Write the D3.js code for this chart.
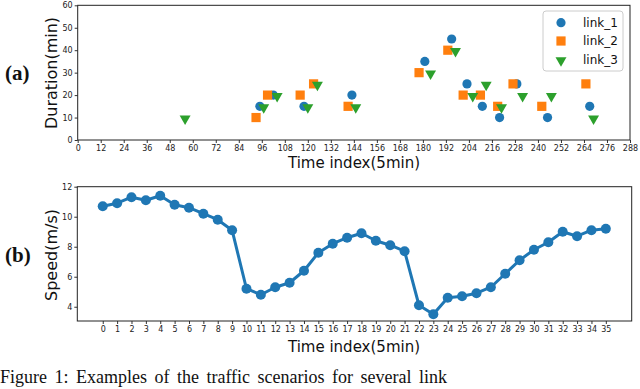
<!DOCTYPE html>
<html>
<head>
<meta charset="utf-8">
<script src="https://cdn.jsdelivr.net/npm/d3@7"></script>
<style>
  body { margin: 0; background: #fff; }
  svg { display: block; }
  .tick text { font-family: "DejaVu Sans", sans-serif; font-size: 8px; fill: #222; }
  .tick line { stroke: #333; }
  .axlabel { font-family: "DejaVu Sans", sans-serif; fill: #111; }
  .panel { font-family: "Liberation Serif", serif; font-weight: bold; font-size: 21px; fill: #111; }
</style>
</head>
<body>
<svg id="fig" width="640" height="389"></svg>
<script>
// (a) trip duration samples per link: [time index, duration]
const link1 = [[95, 15], [102, 20], [118, 15], [143, 20], [181, 35], [195, 45], [203, 25], [211, 15], [220, 10], [229, 25], [245, 10], [267, 15]];
const link2 = [[93, 10], [99, 20], [116, 20], [123, 25], [141, 15], [178, 30], [193, 40], [201, 20], [210, 20], [219, 15], [227, 25], [242, 15], [265, 25]];
const link3 = [[56, 10], [97, 15], [104, 20], [120, 15], [125, 25], [145, 15], [184, 30], [197, 40], [206, 20], [213, 25], [221, 15], [232, 20], [247, 20], [269, 10]];
const linkNames = ["link_1", "link_2", "link_3"];
const topTicksX = d3.range(0, 289, 12);
const topTicksY = [0, 10, 20, 30, 40, 50, 60];

// (b) speed series
const speed = [10.7, 10.9, 11.3, 11.1, 11.4, 10.8, 10.6, 10.2, 9.8, 9.1, 5.2, 4.8, 5.3, 5.6, 6.4, 7.6, 8.2, 8.6, 8.9, 8.4, 8.1, 7.7, 4.1, 3.5, 4.6, 4.7, 4.9, 5.3, 6.2, 7.1, 7.8, 8.3, 9.0, 8.7, 9.1, 9.2];
const botTicksY = [4, 6, 8, 10, 12];

const colors = ["#1f77b4", "#ff7f0e", "#2ca02c"];
const svg = d3.select("#fig");

// ---- panel (a)
const xa = d3.scaleLinear().domain([0, 288]).range([77.7, 630]);
const ya = d3.scaleLinear().domain([0, 60]).range([140, 5.3]);

const ga = svg.append("g");
ga.append("g").attr("transform", "translate(0,140)")
  .call(d3.axisBottom(xa).tickValues(topTicksX).tickSize(3).tickPadding(2))
  .call(g => g.select(".domain").remove());
ga.append("g").attr("transform", "translate(77.7,0)")
  .call(d3.axisLeft(ya).tickValues(topTicksY).tickSize(3).tickPadding(2))
  .call(g => g.select(".domain").remove());
ga.append("rect").attr("x", xa(0)).attr("y", ya(60))
  .attr("width", xa(288) - xa(0)).attr("height", ya(0) - ya(60))
  .attr("fill", "none").attr("stroke", "#222").attr("stroke-width", 1);

const tri = d3.symbol().type(d3.symbolTriangle).size(52);
function marker(sel, k) {
  if (k === 0) sel.append("circle").attr("r", 4.6).attr("fill", colors[0]);
  else if (k === 1) sel.append("rect").attr("x", -4.6).attr("y", -4.6).attr("width", 9.2).attr("height", 9.2).attr("fill", colors[1]);
  else sel.append("path").attr("d", tri).attr("transform", "rotate(180) translate(0,-1)").attr("fill", colors[2]);
}

[link1, link2, link3].forEach((series, k) => {
  ga.append("g").selectAll("g").data(series).join("g")
    .attr("transform", d => `translate(${xa(d[0])},${ya(d[1])})`)
    .each(function () { marker(d3.select(this), k); });
});

// legend
const lg = ga.append("g").attr("transform", "translate(543,11)");
lg.append("rect").attr("width", 80).attr("height", 60).attr("rx", 3)
  .attr("fill", "#fff").attr("fill-opacity", 0.85).attr("stroke", "#ccc");
linkNames.forEach((name, k) => {
  const row = lg.append("g").attr("transform", `translate(18,${11.7 + k * 18.3})`);
  marker(row, k);
  row.append("text").attr("x", 22).attr("y", 4.3).attr("class", "axlabel")
    .style("font-size", "12px").text(name);
});

ga.append("text").attr("class", "axlabel").style("font-size", "16px")
  .attr("transform", "translate(57,73) rotate(-90)").attr("text-anchor", "middle")
  .text("Duration(min)");
ga.append("text").attr("class", "axlabel").style("font-size", "15px")
  .attr("x", 354).attr("y", 168).attr("text-anchor", "middle")
  .text("Time index(5min)");
ga.append("text").attr("class", "panel").attr("x", 5).attr("y", 80).text("(a)");

// ---- panel (b)
const xb = d3.scaleLinear().domain([-1.77, 36.8]).range([77.3, 631.7]);
const yb = d3.scaleLinear().domain([3.05, 12]).range([321, 186.7]);

const gb = svg.append("g");
gb.append("g").attr("transform", "translate(0,321)")
  .call(d3.axisBottom(xb).tickValues(d3.range(speed.length)).tickSize(3).tickPadding(2))
  .call(g => g.select(".domain").remove());
gb.append("g").attr("transform", "translate(77.3,0)")
  .call(d3.axisLeft(yb).tickValues(botTicksY).tickSize(3).tickPadding(2))
  .call(g => g.select(".domain").remove());
gb.append("rect").attr("x", 77.3).attr("y", 186.7)
  .attr("width", 631.7 - 77.3).attr("height", 321 - 186.7)
  .attr("fill", "none").attr("stroke", "#222").attr("stroke-width", 1);

gb.append("path").datum(speed)
  .attr("d", d3.line().x((d, i) => xb(i)).y(d => yb(d)))
  .attr("fill", "none").attr("stroke", colors[0]).attr("stroke-width", 3)
  .attr("stroke-linejoin", "round");
gb.append("g").selectAll("circle").data(speed).join("circle")
  .attr("cx", (d, i) => xb(i)).attr("cy", d => yb(d)).attr("r", 5)
  .attr("fill", colors[0]);

gb.append("text").attr("class", "axlabel").style("font-size", "16px")
  .attr("transform", "translate(57,255) rotate(-90)").attr("text-anchor", "middle")
  .text("Speed(m/s)");
gb.append("text").attr("class", "axlabel").style("font-size", "15px")
  .attr("x", 354).attr("y", 352).attr("text-anchor", "middle")
  .text("Time index(5min)");
gb.append("text").attr("class", "panel").attr("x", 5).attr("y", 262).text("(b)");

// caption, sitting at the bottom edge as in the source figure
svg.append("text").attr("x", 0).attr("y", 383)
  .style("font-family", "Liberation Serif, serif").style("font-size", "18px")
  .style("word-spacing", "3px").attr("fill", "#111")
  .text("Figure 1: Examples of the traffic scenarios for several link");
</script>
</body>
</html>
